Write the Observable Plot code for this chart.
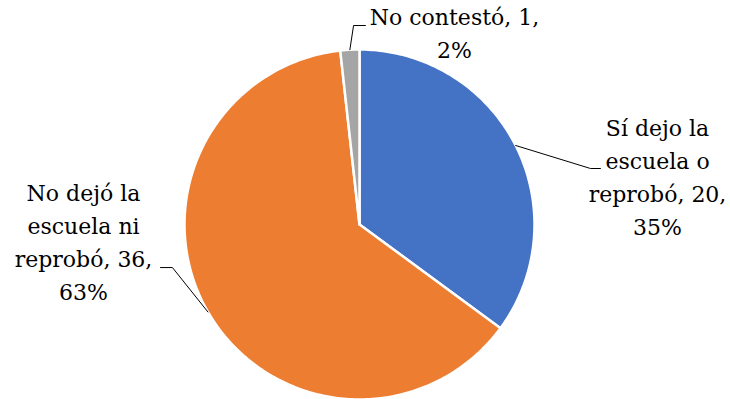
<!DOCTYPE html>
<html><head><meta charset="utf-8">
<script src="https://cdn.jsdelivr.net/npm/d3@7"></script>
<script src="https://cdn.jsdelivr.net/npm/@observablehq/plot@0.6"></script>
<style>
body{margin:0;background:#fff}
</style>
</head><body><div id="chart"></div>
<script>
const categories = ["Sí dejo la escuela o reprobó", "No dejó la escuela ni reprobó", "No contestó"];
const values = [20, 36, 1];
const percents = ["35%", "63%", "2%"];
const colors = ["#4472C4", "#ED7D31", "#A5A5A5"];
const labelText = ["Sí dejo la\nescuela o\nreprobó, 20,\n35%", "No dejó la\nescuela ni\nreprobó, 36,\n63%", "No contestó, 1,\n2%"];
// label block centers (data units, pie radius = 1)
const labelX = [1.703, -1.577, 0.543];
const labelY = [0.283, -0.089, 1.106];
// leader line elbow and end points (data units)
const elbowX = [1.32, -1.069, -0.034];
const elbowY = [0.32, -0.246, 1.137];
const endX = [1.377, -1.137, 0.034];
const endY = [0.32, -0.246, 1.137];

const arcs = d3.pie().sort(null).value(d => d)(values);
const slices = [];
arcs.forEach((a, i) => {
  slices.push({i, x: 0, y: 0});
  const n = Math.max(4, Math.ceil((a.endAngle - a.startAngle) * 60));
  for (let k = 0; k <= n; k++) {
    const t = a.startAngle + (a.endAngle - a.startAngle) * k / n;
    slices.push({i, x: Math.sin(t), y: Math.cos(t)});
  }
});
const leaders = [];
arcs.forEach((a, i) => {
  const m = (a.startAngle + a.endAngle) / 2;
  leaders.push({i, x: Math.sin(m), y: Math.cos(m)});
  leaders.push({i, x: elbowX[i], y: elbowY[i]});
  leaders.push({i, x: endX[i], y: endY[i]});
});
const labels = categories.map((c, i) => ({text: labelText[i], x: labelX[i], y: labelY[i]}));

const chart = Plot.plot({
  width: 730, height: 399,
  margin: 0,
  x: {domain: [-1, 1], range: [184, 534], axis: null},
  y: {domain: [-1, 1], range: [399, 49], axis: null},
  marks: [
    Plot.line(slices, {x: "x", y: "y", z: "i", fill: d => colors[d.i], stroke: "white", strokeWidth: 2.5, curve: "linear-closed"}),
    Plot.line(leaders, {x: "x", y: "y", z: "i", stroke: "black", strokeWidth: 1}),
    Plot.text(labels, {x: "x", y: "y", text: "text", fontSize: 22, fontFamily: "DejaVu Serif", lineHeight: 1.5, fill: "black", lineAnchor: "middle", textAnchor: "middle"})
  ]
});
document.getElementById("chart").appendChild(chart);
</script>
</body></html>
